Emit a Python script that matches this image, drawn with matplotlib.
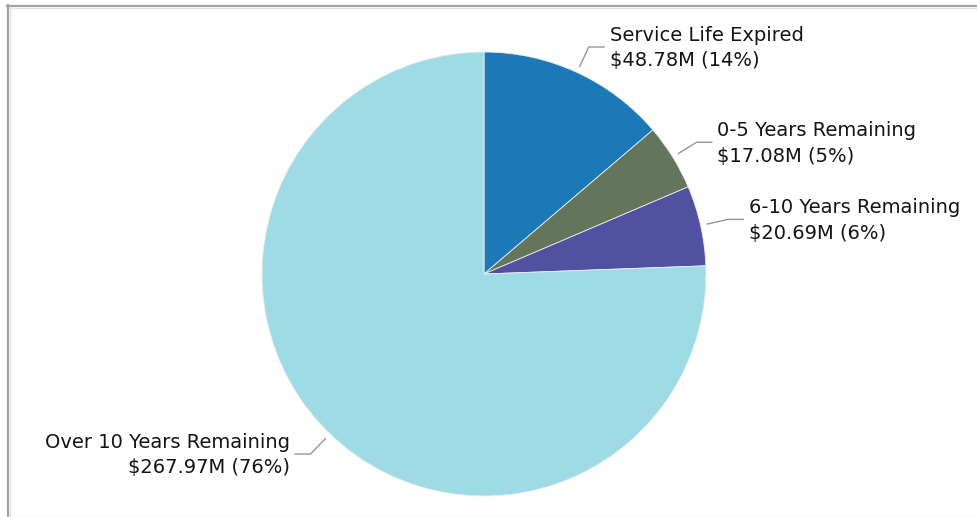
import numpy as np
import matplotlib
matplotlib.use("Agg")
import matplotlib.pyplot as plt

categories = [
    "Service Life Expired",
    "0-5 Years Remaining",
    "6-10 Years Remaining",
    "Over 10 Years Remaining",
]
values_musd = [48.78, 17.08, 20.69, 267.97]
percent_labels = ["14%", "5%", "6%", "76%"]
colors = ["#1c78b6", "#63755a", "#5151a2", "#9edbe4"]

W, H = 977, 517
CX, CY, R = 484, H - 274, 222

fig = plt.figure(figsize=(W / 100, H / 100), dpi=100)
ax = fig.add_axes([0, 0, 1, 1])

wedges, _ = ax.pie(
    values_musd,
    colors=colors,
    startangle=90,
    counterclock=False,
    center=(CX, CY),
    radius=R,
    frame=True,
    wedgeprops=dict(edgecolor="#e8eef0", linewidth=0.6),
)
ax.set_xlim(0, W)
ax.set_ylim(0, H)
ax.set_axis_off()

# leader lines and labels
for wedge, name, val, pct in zip(wedges, categories, values_musd, percent_labels):
    mid = np.deg2rad((wedge.theta1 + wedge.theta2) / 2)
    c, s = np.cos(mid), np.sin(mid)
    x0, y0 = CX + (R + 6) * c, CY + (R + 6) * s
    x1, y1 = CX + (R + 28) * c, CY + (R + 28) * s
    side = 1 if c >= 0 else -1
    x2 = x1 + side * 16
    ax.plot([x0, x1, x2], [y0, y1, y1], color="#959595", lw=1.0,
            solid_capstyle="butt")
    ax.text(x2 + side * 5, y1 - 1, f"{name}\n${val:.2f}M ({pct})",
            ha="left" if side > 0 else "right",
            multialignment="left" if side > 0 else "right",
            va="center", fontsize=14, color="#141414",
            family="DejaVu Sans", linespacing=1.45)

# frame edges
ax.plot([7, W], [H - 5.5, H - 5.5], color="#a3a3a3", lw=1.6)
ax.plot([7, W], [H - 7.5, H - 7.5], color="#e2e2e2", lw=1.0)
ax.plot([8, 8], [0, H - 5], color="#a3a3a3", lw=1.6)
ax.plot([10, 10], [0, H - 7], color="#e2e2e2", lw=1.0)
ax.plot([7, W], [0.5, 0.5], color="#dcdcdc", lw=1.0)

fig.savefig("out.png", dpi=100, facecolor="white")
